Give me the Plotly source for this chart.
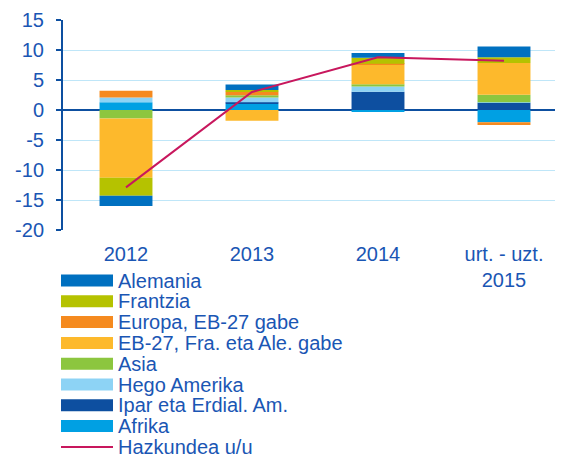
import plotly.graph_objects as go

categories = ["2012", "2013", "2014", "urt. - uzt.<br>2015"]

alemania = [-1.7, 0.9, 0.8, 1.8]
frantzia = [-3.0, 0.3, 1.0, 0.95]
europa = [1.1, 0.6, 0.2, -0.45]
eb27 = [-9.9, -1.8, 3.2, 5.3]
asia = [-1.4, 0.35, 0.4, 1.25]
hego = [0.8, 0.8, 0.85, 0.1]
ipar = [0.0, 0.3, 3.05, 1.2]
afrika = [1.3, 1.0, -0.3, -2.05]
hazkundea = [-12.9, 3.0, 8.8, 8.2]

y_tick_values = [15, 10, 5, 0, -5, -10, -15, -20]
y_tick_labels = ["15", "10", "5", "0", "-5", "-10", "-15", "-20"]

# legend order (top to bottom)
series_names = ["Alemania", "Frantzia", "Europa, EB-27 gabe", "EB-27, Fra. eta Ale. gabe",
                "Asia", "Hego Amerika", "Ipar eta Erdial. Am.", "Afrika"]
series_values = [alemania, frantzia, europa, eb27, asia, hego, ipar, afrika]
series_colors = ["#0070c0", "#b5c200", "#f58a1f", "#fdb92c",
                 "#8cc63f", "#8dd3f5", "#0d4fa0", "#00a0e3"]
line_name = "Hazkundea u/u"
line_color = "#c8175d"

text_color = "#1a56b4"
font_family = "Liberation Sans, Arial, sans-serif"

fig = go.Figure()

# stacking order: Afrika closest to zero ... Alemania outermost
for name, vals, col in reversed(list(zip(series_names, series_values, series_colors))):
    fig.add_trace(go.Bar(x=categories, y=vals, name=name, marker=dict(color=col, line=dict(width=0)),
                         showlegend=False))

fig.add_trace(go.Scatter(x=categories, y=hazkundea, name=line_name, mode="lines",
                         line=dict(color=line_color, width=2), showlegend=False))

# geometry (pixels); page body has an 8px margin
OFF = 8
W, H = 563 - OFF, 457 - OFF
ml, mt = 63 - OFF, 20 - OFF
mr = W - (558 - OFF)
mb = H - (230 - OFF)
pw = W - ml - mr
ph = H - mt - mb

def px_x(x):
    return (x - OFF - ml) / pw

def px_y(y):
    return (H - mb - (y - OFF)) / ph

shapes = []
annotations = []
y0 = 280.5
step = 20.8
for i, (name, col) in enumerate(zip(series_names, series_colors)):
    yc = y0 + i * step
    shapes.append(dict(type="rect", xref="paper", yref="paper",
                       x0=px_x(61), x1=px_x(113), y0=px_y(yc - 6), y1=px_y(yc + 6),
                       fillcolor=col, line=dict(width=0), layer="above"))
    annotations.append(dict(xref="paper", yref="paper", x=px_x(116), y=px_y(yc),
                            xanchor="left", yanchor="middle", text=name, showarrow=False,
                            font=dict(size=20, color=text_color, family=font_family)))
yc = y0 + len(series_names) * step
shapes.append(dict(type="line", xref="paper", yref="paper",
                   x0=px_x(61), x1=px_x(113), y0=px_y(yc), y1=px_y(yc),
                   line=dict(color=line_color, width=2), layer="above"))
annotations.append(dict(xref="paper", yref="paper", x=px_x(116), y=px_y(yc),
                        xanchor="left", yanchor="middle", text=line_name, showarrow=False,
                        font=dict(size=20, color=text_color, family=font_family)))

fig.update_layout(
    width=W, height=H,
    margin=dict(l=ml, r=mr, t=mt, b=mb, autoexpand=False),
    barmode="relative",
    bargap=0.58,
    plot_bgcolor="white", paper_bgcolor="white",
    font=dict(family=font_family, size=20, color=text_color),
    showlegend=False,
    shapes=shapes,
    annotations=annotations,
    xaxis=dict(range=[-0.5, -0.5 + pw / 126.0], showgrid=False, showline=False, ticks="",
               automargin=False, ticklabelstandoff=10,
               tickfont=dict(size=20, color=text_color), fixedrange=True),
    yaxis=dict(range=[-20, 15], tickmode="array", tickvals=y_tick_values, ticktext=y_tick_labels,
               showgrid=True, gridcolor="#bfe6f8", gridwidth=1,
               automargin=False,
               zeroline=True, zerolinecolor="#0d4fa0", zerolinewidth=2,
               showline=True, linecolor="#0d4fa0", linewidth=2,
               ticks="outside", ticklen=5, tickwidth=2, tickcolor="#0d4fa0",
               tickfont=dict(size=20, color=text_color), ticklabelstandoff=8),
)

fig.write_html("out.html")
